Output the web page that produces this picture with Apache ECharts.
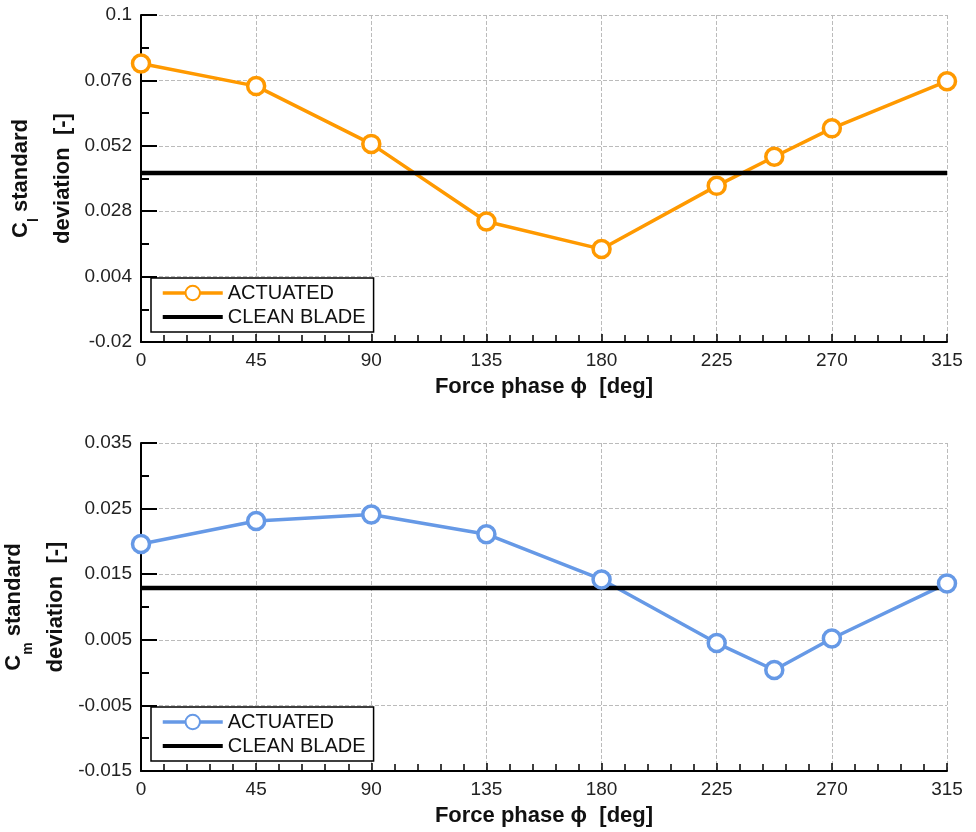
<!DOCTYPE html>
<html>
<head>
<meta charset="UTF-8">
<title>Force phase</title>
<script src="https://cdn.jsdelivr.net/npm/echarts@6/dist/echarts.min.js"></script>
<style>
  html, body { margin: 0; padding: 0; background: #fff; }
  #main { width: 976px; height: 832px; }
</style>
</head>
<body>
<div id="main"></div>
<script>
// force phase [deg]
var phase = [0, 45, 90, 135, 180, 225, 247.5, 270, 315];
var clActuated = [0.0822, 0.0739, 0.0527, 0.0242, 0.0141, 0.0373, 0.0480, 0.0584, 0.0757];
var cmActuated = [0.0196, 0.0231, 0.0241, 0.0211, 0.0142, 0.0045, 0.0004, 0.0052, 0.0136];
// clean blade reference, flat over the whole range
var cleanPhase = [0, 315];
var clClean = [0.042, 0.042];
var cmClean = [0.0129, 0.0129];

var FONT = 'Liberation Sans, Arial, sans-serif';
// thick bar icon for the clean blade legend entry (bbox kept at 60x18 by the empty points)
var BAR_ICON = 'path://M0,0L0,0ZM0,7L60,7L60,11L0,11ZM60,18L60,18Z';

function pairs(xs, ys) {
  var out = [];
  for (var i = 0; i < xs.length; i++) out.push([xs[i], ys[i]]);
  return out;
}

function xAxisFor(idx) {
  return {
    type: 'value', gridIndex: idx, min: 0, max: 315, interval: 45,
    name: 'Force phase \u03d5  [deg]', nameLocation: 'middle', nameGap: 34,
    nameTextStyle: { fontFamily: FONT, fontWeight: 'bold', fontSize: 22, color: '#111' },
    axisLine: { onZero: false, lineStyle: { color: '#000', width: 2 } },
    axisTick: { inside: true, length: 8, lineStyle: { color: '#000', width: 1.5 } },
    minorTick: { show: true, splitNumber: 5, length: 7, lineStyle: { color: '#000', width: 1.5 } },
    splitLine: { lineStyle: { color: '#bbb', type: 'dashed', width: 1 } },
    axisLabel: { margin: 9, fontFamily: FONT, fontSize: 19, color: '#222' }
  };
}

function yAxisFor(idx, min, max, step, title, gap) {
  return {
    type: 'value', gridIndex: idx, min: min, max: max, interval: step,
    name: title, nameLocation: 'middle', nameRotate: 90, nameGap: gap,
    nameTextStyle: {
      fontFamily: FONT, fontWeight: 'bold', fontSize: 22, color: '#111',
      rich: {
        b: { fontFamily: FONT, fontWeight: 'bold', fontSize: 22, lineHeight: 42, color: '#111' },
        s: { fontFamily: FONT, fontWeight: 'bold', fontSize: 14, lineHeight: 12, verticalAlign: 'bottom', color: '#111' }
      }
    },
    axisLine: { show: true, onZero: false, lineStyle: { color: '#000', width: 2 } },
    axisTick: { inside: true, length: 16, lineStyle: { color: '#000', width: 2 } },
    minorTick: { show: true, splitNumber: 2, length: 8, lineStyle: { color: '#000', width: 2 } },
    splitLine: { lineStyle: { color: '#bbb', type: 'dashed', width: 1 } },
    axisLabel: { margin: 9, fontFamily: FONT, fontSize: 19, color: '#222' }
  };
}

function legendFor(top, names) {
  return {
    left: 151, top: top, orient: 'vertical',
    data: [names[0], { name: names[1], icon: BAR_ICON }],
    formatter: function (n) { return n.replace(/ \(.*\)$/, ''); },
    itemWidth: 60, itemHeight: 18, itemGap: 4,
    padding: [5, 8, 5, 10],
    lineStyle: { width: 3.5 },
    backgroundColor: '#fff', borderColor: '#000', borderWidth: 1.5, borderRadius: 0,
    textStyle: { fontFamily: FONT, fontSize: 20, color: '#111' },
    z: 10
  };
}

function actuatedSeries(name, idx, values, color) {
  return {
    name: name, type: 'line', xAxisIndex: idx, yAxisIndex: idx,
    data: pairs(phase, values),
    symbol: 'circle', symbolSize: 17,
    lineStyle: { width: 3.5, color: color },
    itemStyle: { color: '#fff', borderColor: color, borderWidth: 3.5 }
  };
}

function cleanSeries(name, idx, values) {
  return {
    name: name, type: 'line', xAxisIndex: idx, yAxisIndex: idx,
    data: pairs(cleanPhase, values),
    symbol: 'none',
    lineStyle: { width: 4.5, color: '#000' },
    itemStyle: { color: '#000' }
  };
}

var chart = echarts.init(document.getElementById('main'));
var option = {
  backgroundColor: '#fff',
  animation: false,
  grid: [
    { left: 141, right: 29, top: 15, height: 327, outerBoundsMode: 'none', containLabel: false },
    { left: 141, right: 29, top: 443, height: 328, outerBoundsMode: 'none', containLabel: false }
  ],
  xAxis: [xAxisFor(0), xAxisFor(1)],
  yAxis: [
    yAxisFor(0, -0.02, 0.1, 0.024, '{b|C}{s|l}{b| standard}\n{b|deviation  [-]}', 51),
    yAxisFor(1, -0.015, 0.035, 0.01, '{b|C}{s|m}{b| standard}\n{b|deviation  [-]}', 60)
  ],
  legend: [
    legendFor(278, ['ACTUATED', 'CLEAN BLADE']),
    legendFor(707, ['ACTUATED (Cm)', 'CLEAN BLADE (Cm)'])
  ],
  series: [
    actuatedSeries('ACTUATED', 0, clActuated, '#FF9900'),
    cleanSeries('CLEAN BLADE', 0, clClean),
    actuatedSeries('ACTUATED (Cm)', 1, cmActuated, '#6699E6'),
    cleanSeries('CLEAN BLADE (Cm)', 1, cmClean)
  ]
};
chart.setOption(option);
window.onresize = function () { chart.resize(); };
</script>
</body>
</html>
